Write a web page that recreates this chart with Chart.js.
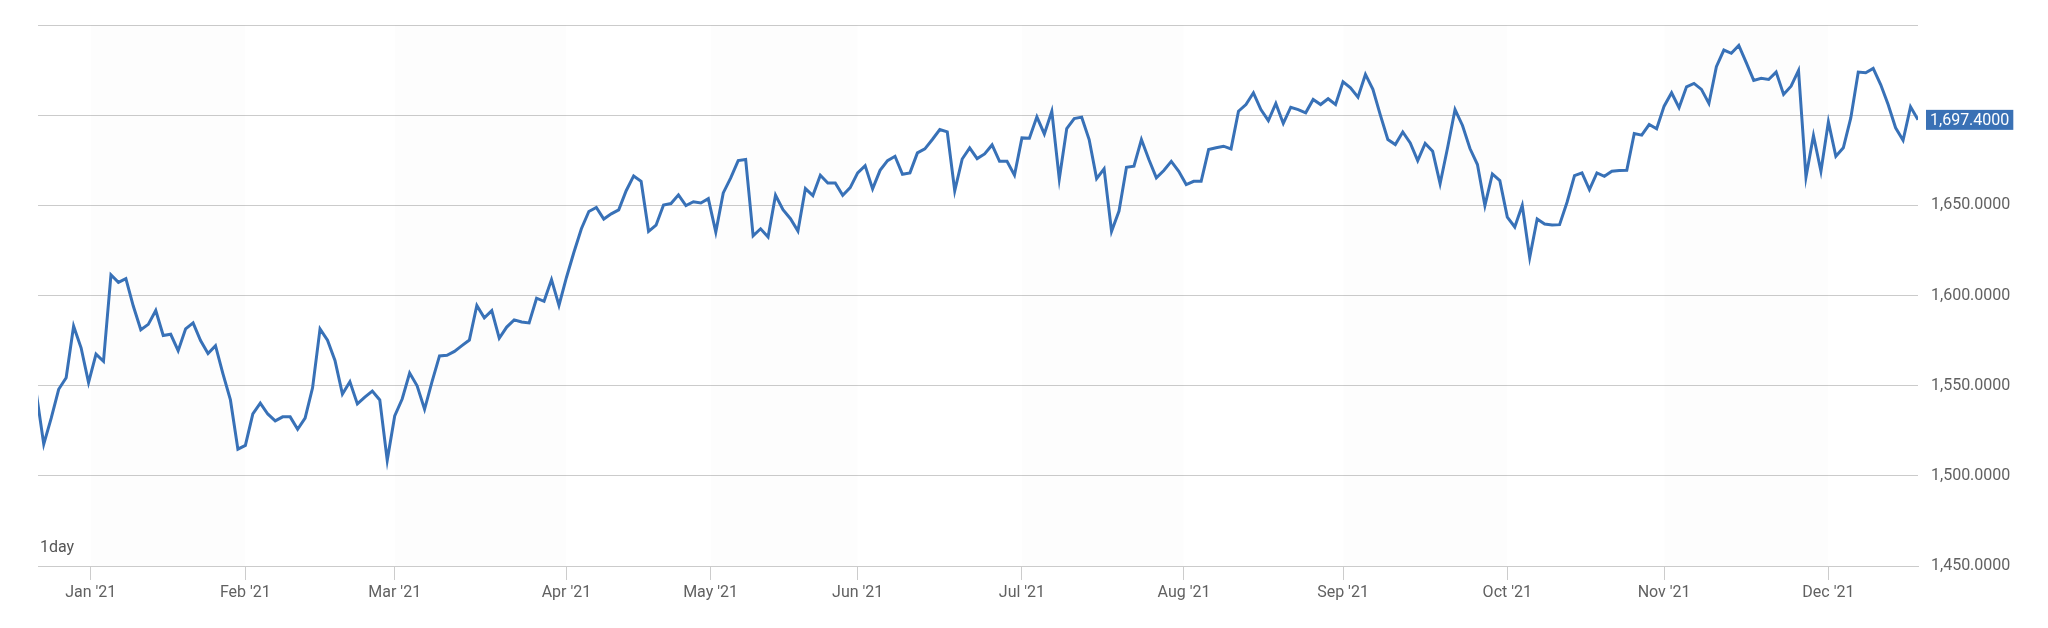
<!DOCTYPE html>
<html>
<head>
<meta charset="utf-8">
<script src="https://cdn.jsdelivr.net/npm/chart.js@4"></script>
<style>
  html, body { margin: 0; padding: 0; background: #fff; }
  #wrap { width: 2048px; height: 628px; position: relative; }
</style>
</head>
<body>
<div id="wrap"><canvas id="myChart"></canvas></div>
<script>
// daily closes, Dec '20 -> Dec '21 (one per trading day)
const closes = [
  1546, 1517.6, 1532, 1548, 1554.4, 1583, 1571, 1551.7, 1567.5, 1563.5,
  1611.5, 1607.3, 1609.4, 1594, 1581, 1584, 1591.7, 1577.8, 1578.5, 1569.4,
  1581.5, 1584.8, 1575, 1567.8, 1572.2, 1556.6, 1542.1, 1514.8, 1516.9, 1534.3,
  1540.3, 1534.3, 1530.5, 1532.7, 1532.7, 1525.8, 1532, 1548.8, 1581.5, 1575.2,
  1564, 1545.4, 1552.2, 1539.9, 1543.7, 1547, 1542.1, 1508.6, 1533.2, 1542.6,
  1557, 1549.9, 1536.9, 1552.2, 1566.5, 1566.8, 1569, 1572.2, 1575.3, 1594.5,
  1587.6, 1591.6, 1576.3, 1582.5, 1586.5, 1585.3, 1584.8, 1598.5, 1596.8, 1608.8,
  1594.5, 1610, 1624, 1637, 1646.6, 1648.8, 1642.4, 1645.3, 1647.5, 1658.1,
  1666.3, 1663.3, 1635.6, 1639, 1650.2, 1651, 1655.8, 1649.9, 1652, 1651.3,
  1653.7, 1635.2, 1656.9, 1665.2, 1674.8, 1675.4, 1633.1, 1637, 1632.4, 1655.6,
  1647.6, 1642.6, 1635.7, 1659.3, 1655.4, 1666.7, 1662.4, 1662.4, 1655.6, 1659.8,
  1668, 1672, 1659.1, 1669.4, 1674.8, 1677.2, 1667.2, 1668, 1679.1, 1681.3,
  1686.5, 1692, 1690.7, 1658.1, 1675.7, 1681.9, 1675.9, 1678.5, 1683.5, 1674.4,
  1674.4, 1666.7, 1687.4, 1687.2, 1699.1, 1689.6, 1702.2, 1664.6, 1692.6, 1698.1,
  1698.9, 1686.5, 1664.8, 1670.2, 1635.6, 1646.8, 1671.1, 1671.7, 1686.5, 1675.4,
  1665.2, 1669.3, 1674.4, 1668.9, 1661.5, 1663.3, 1663.3, 1680.9, 1681.9, 1682.8,
  1681.3, 1702.2, 1705.9, 1712.4, 1703.1, 1697, 1706.5, 1695.4, 1704.4, 1703.1,
  1701.3, 1708.7, 1705.9, 1709.1, 1705.9, 1718.5, 1715.2, 1710, 1722.6, 1714.3,
  1700, 1686.5, 1683.7, 1690.7, 1684.6, 1674.8, 1684.3, 1680, 1662, 1681.9,
  1703.1, 1694.3, 1681.5, 1672.6, 1649.8, 1667.4, 1663.7, 1643.5, 1638, 1650,
  1621.1, 1642.4, 1639.6, 1639.1, 1639.3, 1651.7, 1666.5, 1668, 1658.7, 1668,
  1666.1, 1668.9, 1669.3, 1669.4, 1689.8, 1688.9, 1694.8, 1692.5, 1705, 1712.4,
  1704.1, 1715.7, 1717.6, 1714.3, 1706.5, 1726.9, 1736.1, 1734.3, 1738.7, 1729.1,
  1719.3, 1720.4, 1719.8, 1723.9, 1711.5, 1716.1, 1724.8, 1665.7, 1688.7, 1668.9,
  1696.3, 1677.2, 1681.9, 1698.5, 1723.9, 1723.5, 1725.9, 1717, 1705.9, 1693,
  1686.1, 1704.6, 1697.4
];

// month ticks sit on the trading-day index of the month start
const monthTickIdx = [7.3, 28, 48, 71, 90.3, 110, 132, 153.7, 175, 197, 218, 240];
const monthLabels = ["Jan '21", "Feb '21", "Mar '21", "Apr '21", "May '21", "Jun '21",
                     "Jul '21", "Aug '21", "Sep '21", "Oct '21", "Nov '21", "Dec '21"];

const yTicks = [1450, 1500, 1550, 1600, 1650, 1700, 1750];
const yLabelMax = 1650;   // labels above this are hidden (price flag sits there)
const rangeLabel = '1day';

const lineColor = '#3871b7';
const textColor = '#616161';
const gridColor = '#cbcbcb';

function fmt(v, dp) {
    return v.toLocaleString('en-US', { minimumFractionDigits: dp, maximumFractionDigits: dp });
}

// alternate month bands + "1day" + last price flag
const decorations = {
    id: 'decorations',
    beforeDatasetsDraw(chart) {
        const { ctx, chartArea, scales } = chart;
        ctx.save();
        ctx.fillStyle = 'rgba(0,0,0,0.006)';
        for (let i = 0; i + 1 < monthTickIdx.length; i += 2) {
            const x1 = scales.x.getPixelForValue(monthTickIdx[i]);
            const x2 = scales.x.getPixelForValue(monthTickIdx[i + 1]);
            ctx.fillRect(x1, chartArea.top, x2 - x1, chartArea.bottom - chartArea.top);
        }
        ctx.restore();
    },
    afterDatasetsDraw(chart) {
        const { ctx, chartArea, scales } = chart;
        ctx.save();
        ctx.font = '16px Roboto';
        ctx.fillStyle = '#555';
        ctx.textBaseline = 'middle';
        ctx.fillText(rangeLabel, chartArea.left + 2, chartArea.bottom - 18);

        const last = closes[closes.length - 1];
        const y = scales.y.getPixelForValue(last);
        const txt = fmt(last, 4);
        const w = ctx.measureText(txt).width + 8;
        const x = chartArea.right + 8;
        ctx.fillStyle = '#3a71b5';
        ctx.fillRect(x, y - 10, w, 20);
        ctx.fillStyle = '#fff';
        ctx.fillText(txt, x + 4, y + 1);
        ctx.restore();
    }
};

const ctx = document.getElementById('myChart').getContext('2d');
new Chart(ctx, {
    type: 'line',
    data: {
        datasets: [{
            data: closes.map((v, i) => ({ x: i, y: v })),
            borderColor: lineColor,
            borderWidth: 3,
            pointRadius: 0,
            tension: 0,
            fill: false
        }]
    },
    options: {
        responsive: true,
        maintainAspectRatio: false,
        animation: false,
        layout: { padding: { left: 38, top: 25, right: 0, bottom: 0 } },
        plugins: { legend: { display: false }, tooltip: { enabled: false } },
        scales: {
            x: {
                type: 'linear',
                min: 0.23,
                max: closes.length - 1,
                afterBuildTicks: scale => {
                    scale.ticks = monthTickIdx.map(v => ({ value: v }));
                },
                afterFit: scale => { scale.height = 62; },
                ticks: {
                    autoSkip: false,
                    maxRotation: 0,
                    padding: 3,
                    color: textColor,
                    font: { family: 'Roboto', size: 16 },
                    callback: (value, index) => monthLabels[index]
                },
                grid: {
                    drawOnChartArea: false,
                    drawTicks: true,
                    tickLength: 14,
                    color: '#cccccc'
                },
                border: { display: true, color: gridColor }
            },
            y: {
                position: 'right',
                min: 1450,
                max: 1750,
                afterBuildTicks: scale => {
                    scale.ticks = yTicks.map(v => ({ value: v }));
                },
                afterFit: scale => { scale.width = 130; },
                ticks: {
                    padding: 13,
                    color: textColor,
                    font: { family: 'Roboto', size: 16 },
                    callback: value => value <= yLabelMax ? fmt(value, 4) : ''
                },
                grid: { color: gridColor, lineWidth: 1, drawTicks: false },
                border: { display: false }
            }
        }
    },
    plugins: [decorations]
});
</script>
</body>
</html>
